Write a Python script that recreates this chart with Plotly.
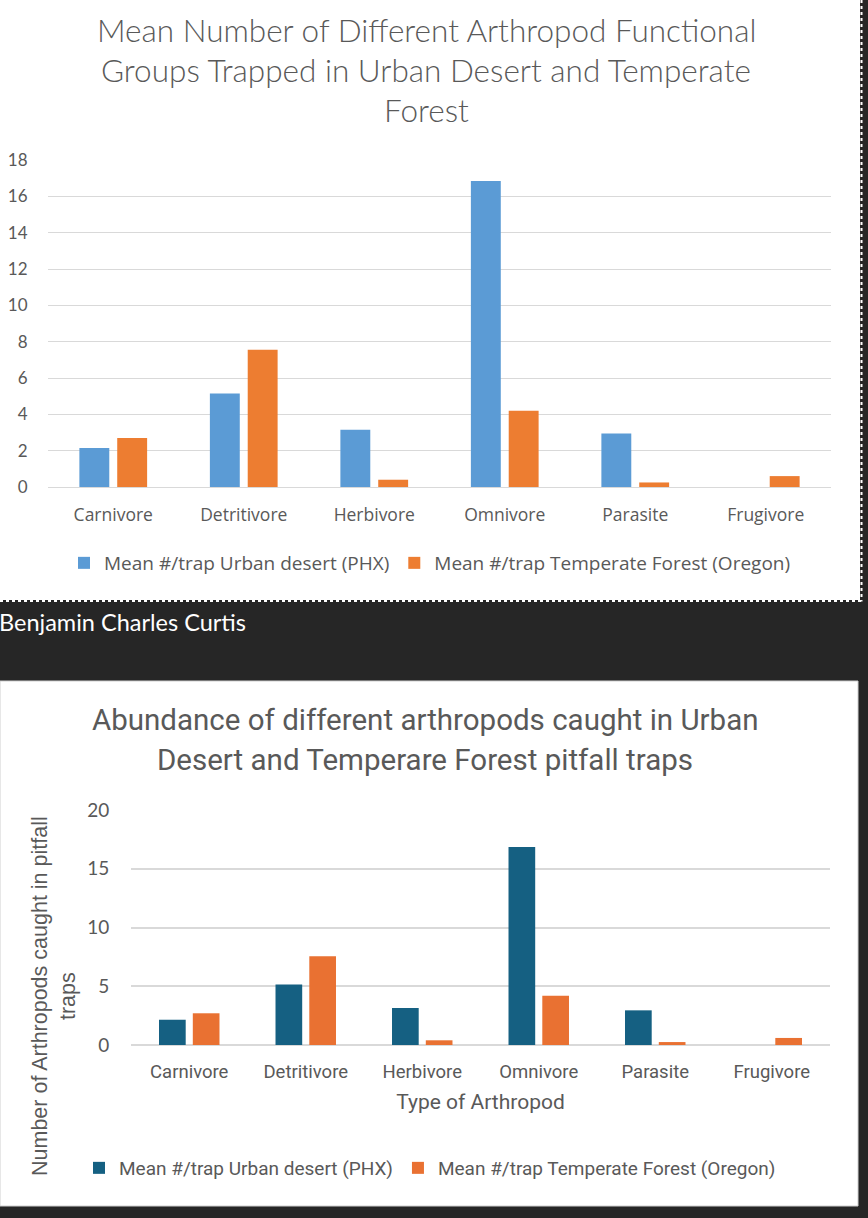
import plotly.graph_objects as go

# ---- data ----
categories = ["Carnivore", "Detritivore", "Herbivore", "Omnivore", "Parasite", "Frugivore"]
urban_desert = [2.15, 5.15, 3.15, 16.85, 2.95, 0]
temperate_forest = [2.7, 7.55, 0.4, 4.2, 0.25, 0.6]
series_names = ["Mean #/trap Urban desert (PHX)", "Mean #/trap Temperate Forest (Oregon)"]
title1_lines = ["Mean Number of Different Arthropod Functional",
                "Groups Trapped in Urban Desert and Temperate",
                "Forest"]
title2_lines = ["Abundance of different arthropods caught in Urban",
                "Desert and Temperare Forest pitfall traps"]
author = "Benjamin Charles Curtis"
xtitle2 = "Type of Arthropod"
ytitle2 = "Number of Arthropods caught in pitfall<br>traps"
y1_ticks = [0, 2, 4, 6, 8, 10, 12, 14, 16, 18]
y2_ticks = [0, 5, 10, 15, 20]

W, H = 868, 1218
def px(x):
    return x / W
def py(y):
    return 1 - y / H

GRAY = "#595959"
GRID = "#D9D9D9"
F1 = "Open Sans"
F1T = "Lato"
F2 = "Roboto"

fig = go.Figure()

# chart 1
fig.add_trace(go.Bar(x=categories, y=urban_desert, name=series_names[0],
                     marker=dict(color="#5B9BD5", line=dict(width=0)),
                     xaxis="x", yaxis="y", legend="legend"))
fig.add_trace(go.Bar(x=categories, y=temperate_forest, name=series_names[1],
                     marker=dict(color="#ED7D31", line=dict(width=0)),
                     xaxis="x", yaxis="y", legend="legend"))
# chart 2
fig.add_trace(go.Bar(x=categories, y=urban_desert, name=series_names[0],
                     marker=dict(color="#156082", line=dict(width=0)),
                     xaxis="x2", yaxis="y2", legend="legend2", offsetgroup="a"))
fig.add_trace(go.Bar(x=categories, y=temperate_forest, name=series_names[1],
                     marker=dict(color="#E97132", line=dict(width=0)),
                     xaxis="x2", yaxis="y2", legend="legend2", offsetgroup="b"))

shapes = [
    # top white panel
    dict(type="rect", xref="paper", yref="paper", x0=px(0), x1=px(860), y0=py(600), y1=py(0),
         fillcolor="white", line=dict(width=0), layer="below"),
    dict(type="line", xref="paper", yref="paper", x0=px(861.5), x1=px(861.5), y0=py(0), y1=py(601.5),
         line=dict(color="white", width=2, dash="dot"), layer="below"),
    dict(type="line", xref="paper", yref="paper", x0=px(0), x1=px(861.5), y0=py(601), y1=py(601),
         line=dict(color="white", width=2, dash="dot"), layer="below"),
    # bottom white panel
    dict(type="rect", xref="paper", yref="paper", x0=px(0), x1=px(858), y0=py(1206), y1=py(681),
         fillcolor="white", line=dict(color="#CFCFCF", width=1), layer="below"),
]

annotations = []
for i, line in enumerate(title1_lines):
    annotations.append(dict(text=line, xref="paper", yref="paper", x=px(426), y=py(30 + 40 * i),
                            xanchor="center", yanchor="middle", showarrow=False,
                            font=dict(family=F1T, size=31.5, color=GRAY, weight=300)))
for i, line in enumerate(title2_lines):
    annotations.append(dict(text=line, xref="paper", yref="paper", x=px(425), y=py(720 + 40 * i),
                            xanchor="center", yanchor="middle", showarrow=False,
                            font=dict(family=F2, size=29.5, color=GRAY)))
annotations.append(dict(text=author, xref="paper", yref="paper", x=px(-3), y=py(622),
                        xanchor="left", yanchor="middle", showarrow=False,
                        font=dict(family=F1T, size=23.5, color="white")))
annotations.append(dict(text=ytitle2, xref="paper", yref="paper", x=px(54), y=py(996),
                        xanchor="center", yanchor="middle", showarrow=False, textangle=-90,
                        font=dict(family="Liberation Sans", size=21.5, color=GRAY)))

fig.update_layout(
    template="none",
    width=W, height=H,
    autosize=False,
    margin=dict(l=0, r=0, t=0, b=0, pad=0, autoexpand=False),
    paper_bgcolor="#262626",
    plot_bgcolor="rgba(0,0,0,0)",
    barmode="group",
    bargap=0.42,
    bargroupgap=0.21,
    shapes=shapes,
    annotations=annotations,
    xaxis=dict(domain=[px(48), px(831)], anchor="y", type="category", automargin=False,
               showgrid=False, showline=False, zeroline=False,
               ticks="outside", ticklen=12, tickcolor="rgba(0,0,0,0)",
               tickfont=dict(family=F1, size=17.5, color=GRAY)),
    yaxis=dict(domain=[py(487), py(160)], anchor="x", range=[0, 18], automargin=False,
               tickvals=y1_ticks, showgrid=True, gridcolor=GRID, gridwidth=1,
               zeroline=True, zerolinecolor=GRID, zerolinewidth=1, showline=False,
               ticks="outside", ticklen=16, tickcolor="rgba(0,0,0,0)",
               tickfont=dict(family=F1T, size=17, color=GRAY)),
    xaxis2=dict(domain=[px(131), px(830)], anchor="y2", type="category", automargin=False,
                showgrid=False, showline=False, zeroline=False,
                ticks="outside", ticklen=10, tickcolor="rgba(0,0,0,0)",
                tickfont=dict(family=F2, size=18.5, color=GRAY),
                title=dict(text=xtitle2, font=dict(family=F2, size=21, color=GRAY), standoff=12)),
    yaxis2=dict(domain=[py(1045), py(810)], anchor="x2", range=[0, 20], automargin=False,
                tickvals=y2_ticks, showgrid=True, gridcolor=GRID, gridwidth=1.5,
                zeroline=True, zerolinecolor=GRID, zerolinewidth=1.5, showline=False,
                ticks="outside", ticklen=17, tickcolor="rgba(0,0,0,0)",
                tickfont=dict(family=F1T, size=19, color=GRAY)),
    legend=dict(orientation="h", x=px(430), xanchor="center", y=py(563), yanchor="middle",
                font=dict(family=F1, size=19, color=GRAY), bgcolor="rgba(0,0,0,0)",
                borderwidth=0, itemwidth=30, traceorder="normal"),
    legend2=dict(orientation="h", x=px(430), xanchor="center", y=py(1168), yanchor="middle",
                 font=dict(family=F2, size=19, color=GRAY), bgcolor="rgba(0,0,0,0)",
                 borderwidth=0, itemwidth=30, traceorder="normal"),
    showlegend=True,
)

fig.write_html("out.html", config={"displayModeBar": False},
               post_script="document.body.style.margin='0';document.body.style.background='#262626';")
